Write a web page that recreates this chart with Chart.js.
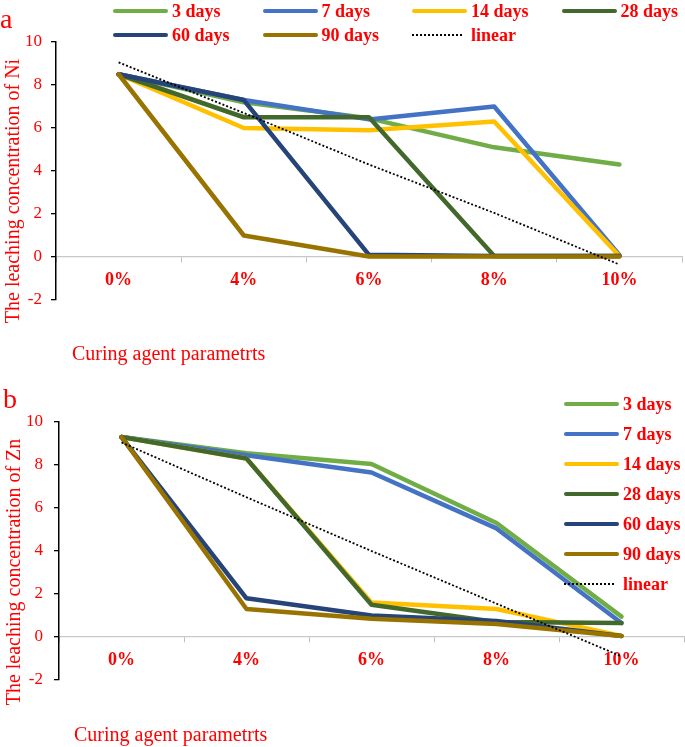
<!DOCTYPE html>
<html>
<head>
<meta charset="utf-8">
<script src="https://cdn.jsdelivr.net/npm/chart.js@4.4.1/dist/chart.umd.min.js"></script>
<style>
    body { margin: 0; background: #fff; width: 685px; height: 747px; overflow: hidden; position: relative;
           font-family: "Liberation Serif", "Times New Roman", serif; color: #ff0000; }
    .panel { position: absolute; left: 0; width: 685px; }
    .panel canvas { position: absolute; left: 0; top: 0; }
    .tag { position: absolute; font-size: 28px; line-height: 28px; }
    .ytitle { position: absolute; font-size: 20px; line-height: 24px; white-space: nowrap;
              transform: translate(-50%, -50%) rotate(-90deg); }
    .xtitle { position: absolute; font-size: 20px; line-height: 20px; white-space: nowrap; }
    .lg { position: absolute; height: 22px; display: flex; align-items: center;
          font-weight: bold; font-size: 18px; white-space: nowrap; }
    .lg .mark { display: inline-block; width: 55px; margin-right: 4px; }
</style>
</head>
<body>
<div class="panel" id="panelA" style="top:0;height:372px;">
    <canvas id="niChart" width="685" height="372"></canvas>
    <div class="tag" style="left:0;top:5px;">a</div>
    <div class="ytitle" style="left:12px;top:191px;">The leaching concentration of Ni</div>
    <div class="xtitle" style="left:72px;top:343px;">Curing agent parametrts</div>
</div>
<div class="panel" id="panelB" style="top:372px;height:375px;">
    <canvas id="znChart" width="685" height="375"></canvas>
    <div class="tag" style="left:3px;top:13px;">b</div>
    <div class="ytitle" style="left:13px;top:200px;">The leaching concentration of Zn</div>
    <div class="xtitle" style="left:74px;top:352px;">Curing agent parametrts</div>
</div>

<script>
// categories and series
var categories = ['0%', '4%', '6%', '8%', '10%'];
var seriesNames = ['3 days', '7 days', '14 days', '28 days', '60 days', '90 days', 'linear'];
var seriesColors = ['#70AD47', '#4472C4', '#FFC000', '#43682B', '#264478', '#997300', '#000000'];

// (a) leaching concentration of Ni
var ni3 = [8.5, 7.2, 6.45, 5.1, 4.3];
var ni7 = [8.5, 7.3, 6.4, 7.0, 0.1];
var ni14 = [8.5, 6.0, 5.9, 6.3, 0.05];
var ni28 = [8.5, 6.5, 6.5, 0.05, 0.05];
var ni60 = [8.5, 7.3, 0.1, 0.05, 0.05];
var ni90 = [8.5, 1.0, 0.02, 0.02, 0.02];
var niLinear = [9.05, 6.7, 4.3, 2.05, -0.35];

// (b) leaching concentration of Zn
var zn3 = [9.3, 8.55, 8.05, 5.3, 0.95];
var zn7 = [9.3, 8.45, 7.65, 5.05, 0.65];
var zn14 = [9.3, 8.3, 1.6, 1.3, 0.05];
var zn28 = [9.3, 8.3, 1.5, 0.7, 0.65];
var zn60 = [9.3, 1.8, 1.0, 0.75, 0.05];
var zn90 = [9.3, 1.3, 0.85, 0.6, 0.05];
var znLinear = [9.05, 6.5, 4.0, 1.55, -0.9];

var yTicks = { min: -2, max: 10, step: 2 };
var serif = '"Liberation Serif", "Times New Roman", serif';

function buildChart(canvasId, rows, yWidth, pad, labelPad) {
    var datasets = seriesNames.map(function(name, i) {
        var isLinear = name === 'linear';
        return {
            label: name,
            data: rows[i],
            borderColor: seriesColors[i],
            backgroundColor: seriesColors[i],
            borderWidth: isLinear ? 1.8 : 4.5,
            borderDash: isLinear ? [2, 2] : [],
            borderCapStyle: isLinear ? 'butt' : 'round',
            borderJoinStyle: 'round',
            pointRadius: 0,
            tension: 0,
            fill: false,
            order: seriesNames.length - i   // later series drawn on top
        };
    });

    var ctx = document.getElementById(canvasId).getContext('2d');
    return new Chart(ctx, {
        type: 'line',
        data: { labels: categories, datasets: datasets },
        options: {
            responsive: false,
            animation: false,
            devicePixelRatio: 1,
            layout: { padding: pad },
            plugins: {
                legend: { display: false },
                tooltip: { enabled: false }
            },
            scales: {
                x: {
                    type: 'category',
                    offset: true,
                    position: { y: 0 },
                    grid: { offset: true, drawOnChartArea: false, drawTicks: true, tickLength: 5, color: '#bfbfbf', lineWidth: 1 },
                    border: { display: true, color: '#c8c8c8', width: 1.3 },
                    ticks: { color: '#ff0000', padding: 8, maxRotation: 0, autoSkip: false,
                             font: { family: serif, size: 18, weight: 'bold' } }
                },
                y: {
                    min: yTicks.min,
                    max: yTicks.max,
                    grid: { drawOnChartArea: false, drawTicks: true, tickLength: 5, color: '#000', lineWidth: 1.3 },
                    border: { display: true, color: '#000', width: 1.5 },
                    ticks: { stepSize: yTicks.step, color: '#ff0000', padding: labelPad,
                             font: { family: serif, size: 17 } },
                    afterFit: function(scale) { scale.width = yWidth; }
                }
            }
        }
    });
}

// html legend, fixed-column like the source figure
function buildLegend(panelId, place) {
    var panel = document.getElementById(panelId);
    seriesNames.forEach(function(name, i) {
        var p = place(i);
        var item = document.createElement('div');
        item.className = 'lg';
        item.style.left = p.x + 'px';
        item.style.top = (p.y - 11) + 'px';
        var mark = document.createElement('span');
        mark.className = 'mark';
        if (name === 'linear') {
            mark.style.borderTop = '2px dotted #000';
            mark.style.width = '50px';
            mark.style.marginRight = '9px';
        } else {
            mark.style.height = '4px';
            mark.style.borderRadius = '2px';
            mark.style.background = seriesColors[i];
        }
        item.appendChild(mark);
        item.appendChild(document.createTextNode(name));
        panel.appendChild(item);
    });
}

buildChart('niChart', [ni3, ni7, ni14, ni28, ni60, ni90, niLinear], 56,
           { top: 42, left: 0, right: 3, bottom: 72 }, 9);
buildChart('znChart', [zn3, zn7, zn14, zn28, zn60, zn90, znLinear], 59,
           { top: 50, left: 0, right: 1, bottom: 67 }, 11);

buildLegend('panelA', function(i) {
    return { x: 113 + (i % 4) * 149.5, y: 11 + Math.floor(i / 4) * 24 };
});
buildLegend('panelB', function(i) {
    return { x: 564, y: 32 + i * 30 };
});
</script>
</body>
</html>
